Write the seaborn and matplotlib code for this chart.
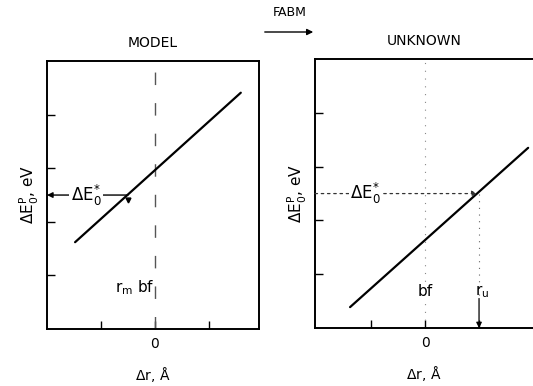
import numpy as np
import pandas as pd
import matplotlib
matplotlib.use("Agg")
import matplotlib.pyplot as plt
import seaborn as sns

# Calibration lines: endpoints of the straight ΔE0^P vs Δr relations
model_dr = [-1.48, 1.59]
model_de = [1.62, 4.41]
unknown_dr = [-1.39, 1.91]
unknown_de = [0.39, 3.35]

# Measured edge shift and the resulting bond-length offsets
e0_star = 2.5
r_m = -0.5
r_u = 1.0

x_ticks = [-1, 0, 1]
x_tick_labels = ["", "0", ""]
y_ticks = [1, 2, 3, 4]

sns.set_theme(style="white")
plt.rcParams["font.family"] = ["DejaVu Sans"]
plt.rcParams["mathtext.default"] = "regular"
for key in ("text.color", "axes.labelcolor", "xtick.color", "ytick.color"):
    plt.rcParams[key] = "black"

fig = plt.figure(figsize=(5.33, 3.86), dpi=100)
ax1 = fig.add_axes([0.0882, 0.1477, 0.398, 0.694])
ax2 = fig.add_axes([0.591, 0.150, 0.409, 0.697])

fs = 10
ylabel = r"$\Delta E_0^P$, eV"
xlabel = r"$\Delta$r, $\AA$"
estar = r"$\Delta E_0^{*}$"


def style_axes(ax, xlim):
    ax.set_xlim(*xlim)
    ax.set_ylim(0, 5)
    ax.set_xticks(x_ticks)
    ax.set_xticklabels(x_tick_labels, fontsize=fs)
    ax.set_yticks(y_ticks)
    ax.set_yticklabels([])
    ax.tick_params(direction="in", length=6, width=1, colors="black",
                   left=True, bottom=True, pad=6)
    for s in ax.spines.values():
        s.set_color("black")
        s.set_linewidth(1.4)
    ax.set_ylabel(ylabel, fontsize=fs + 1, color="black", labelpad=-2)
    ax.set_xlabel(xlabel, fontsize=fs, color="black", labelpad=10)


# ---- MODEL panel ----
df_m = pd.DataFrame({"dr": model_dr, "de": model_de})
sns.lineplot(data=df_m, x="dr", y="de", ax=ax1, color="black", lw=1.6)
style_axes(ax1, (-2.0, 1.93))
ax1.axvline(0, color="#555555", lw=1, dashes=(9, 13), zorder=1)
ax1.annotate("", xy=(-2.0, e0_star), xytext=(r_m, e0_star),
             arrowprops=dict(arrowstyle="-|>", color="black", lw=1,
                             mutation_scale=8, shrinkA=0, shrinkB=0))
ax1.text(-1.28, e0_star, estar, fontsize=fs + 2, ha="center", va="center",
         bbox=dict(facecolor="white", edgecolor="none", pad=1))
ax1.plot([r_m], [e0_star - 0.1], marker="v", color="black", ms=3.5)
ax1.text(-0.38, 0.78, r"r$_m$ bf", fontsize=fs + 1, ha="center", va="center")
ax1.set_title("MODEL", fontsize=fs, pad=10, color="black")

# ---- UNKNOWN panel ----
df_u = pd.DataFrame({"dr": unknown_dr, "de": unknown_de})
sns.lineplot(data=df_u, x="dr", y="de", ax=ax2, color="black", lw=1.6)
style_axes(ax2, (-2.04, 2.0))
ax2.spines["right"].set_visible(False)
ax2.axvline(0, color="#888888", lw=0.8, ls=(0, (1, 6)), zorder=1)
ax2.annotate("", xy=(r_u - 0.03, e0_star), xytext=(-2.04, e0_star),
             arrowprops=dict(arrowstyle="-|>", color="#333333", lw=0.9,
                             ls=(0, (2, 3)), mutation_scale=8,
                             shrinkA=0, shrinkB=0))
ax2.text(-1.1, e0_star, estar, fontsize=fs + 2, ha="center", va="center",
         bbox=dict(facecolor="white", edgecolor="none", pad=1))
ax2.plot([r_u, r_u], [e0_star, 0.55], color="#666666", lw=0.8,
         ls=(0, (1, 5)))
ax2.annotate("", xy=(r_u, 0.0), xytext=(r_u, 0.55),
             arrowprops=dict(arrowstyle="-|>", color="black", lw=0.9,
                             mutation_scale=8, shrinkA=0, shrinkB=0))
ax2.text(0, 0.68, "bf", fontsize=fs + 1, ha="center", va="center",
         bbox=dict(facecolor="white", edgecolor="none", pad=0.5))
ax2.text(r_u + 0.05, 0.68, r"r$_u$", fontsize=fs + 1, ha="center",
         va="center")
ax2.set_title("UNKNOWN", fontsize=fs, pad=10, color="black")

# ---- FABM transfer arrow between panels ----
fig.text(290 / 533, 1 - 13 / 386, "FABM", fontsize=fs - 1, ha="center",
         va="center")
fig.add_artist(matplotlib.patches.FancyArrowPatch(
    (262 / 533, 1 - 32 / 386), (316 / 533, 1 - 32 / 386),
    transform=fig.transFigure, arrowstyle="-|>", mutation_scale=9,
    color="black", lw=1))

fig.savefig("out.png", dpi=100, facecolor="white")
